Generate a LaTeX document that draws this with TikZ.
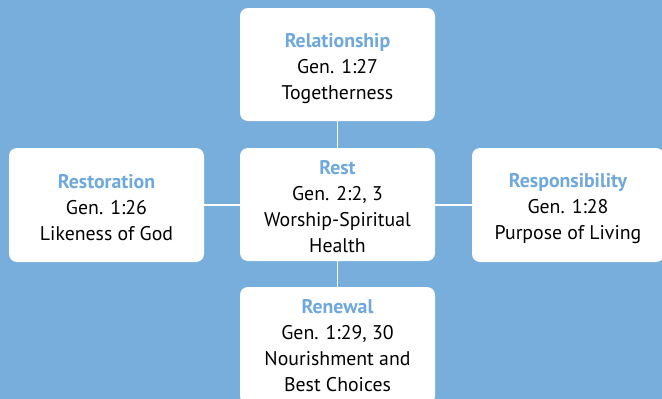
\documentclass[tikz,border=0pt]{standalone}
\usepackage{fontspec}
\setmainfont{PT Sans}
\definecolor{bgblue}{RGB}{120,174,220}
\definecolor{titleblue}{RGB}{111,168,220}
\begin{document}
\begin{tikzpicture}[x=1pt,y=-1pt,
  box/.style={draw=none,fill=white,rounded corners=8pt,inner sep=0pt},
  txt/.style={align=center,font=\fontsize{19.8}{26}\selectfont,inner sep=0pt},
  link/.style={draw=white,line width=1.6pt}]
\fill[bgblue] (0,0) rectangle (662,399);
\useasboundingbox (0,0) rectangle (662,399);
\node[box,minimum width=195pt,minimum height=113pt] (rel) at (337.5,64.5) {};
\node[box,minimum width=195pt,minimum height=113pt] (rest) at (337.5,204.5) {};
\node[box,minimum width=195pt,minimum height=114pt] (resto) at (106.5,205) {};
\node[box,minimum width=192pt,minimum height=114pt] (resp) at (568,205) {};
\node[box,minimum width=195pt,minimum height=117pt] (ren) at (337.5,345.5) {};
\node[txt,yshift=-4.5pt] (relt) at (rel.center)
  {\textcolor{titleblue}{\bfseries Relationship}\\Gen. 1:27\\Togetherness};
\node[txt,yshift=-2pt] (restt) at (rest.center)
  {\textcolor{titleblue}{\bfseries Rest}\\Gen. 2:2, 3\\Worship-Spiritual\\Health};
\node[txt,yshift=-2.5pt] (restot) at (resto.center)
  {\textcolor{titleblue}{\bfseries Restoration}\\Gen. 1:26\\Likeness of God};
\node[txt,yshift=-3.5pt] (respt) at (resp.center)
  {\textcolor{titleblue}{\bfseries Responsibility}\\Gen. 1:28\\Purpose of Living};
\node[txt,yshift=0pt] (rent) at (ren.center)
  {\textcolor{titleblue}{\bfseries Renewal}\\Gen. 1:29, 30\\Nourishment and\\Best Choices};
\draw[link] (rel.south) -- (rest.north);
\draw[link] (rest.south) -- (ren.north);
\draw[link] (resto.east) -- (resto.east -| rest.west);
\draw[link] (resp.west -| rest.east) -- (resp.west);
\end{tikzpicture}
\end{document}
